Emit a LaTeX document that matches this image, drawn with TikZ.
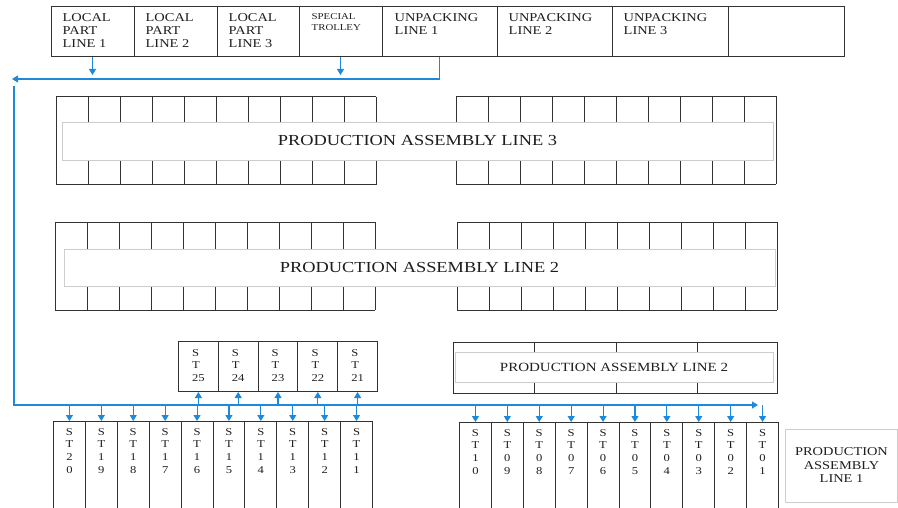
\documentclass[tikz,border=0pt]{standalone}
\usepackage{fontspec}
\setmainfont{Liberation Serif}[FakeStretch=1.2]
\usetikzlibrary{arrows.meta,calc}
\definecolor{flowblue}{RGB}{30,136,218}
\definecolor{boxline}{RGB}{50,50,50}
\definecolor{innerline}{RGB}{205,205,205}
\definecolor{txt}{RGB}{30,30,30}
\begin{document}
\begin{tikzpicture}[x=1pt,y=-1pt,
  topbox/.style={draw=boxline,line width=1pt,inner sep=0pt,minimum height=50pt},
  toptext/.style={inner sep=0pt,align=left,text=txt,font=\fontsize{12}{13}\selectfont},
  smalltext/.style={inner sep=0pt,align=left,text=txt,font=\fontsize{9}{11}\selectfont},
  gridline/.style={draw=boxline,line width=1pt},
  innerbox/.style={draw=innerline,line width=0.9pt,fill=white,inner sep=0pt,text=txt},
  bigtext/.style={font=\fontsize{15.3}{18}\selectfont},
  midtext/.style={font=\fontsize{12.5}{15}\selectfont},
  stbox/.style={draw=boxline,line width=1pt,inner sep=0pt},
  sttext/.style={inner sep=0pt,text=txt,font=\fontsize{10.5}{12.8}\selectfont},
  labelbox/.style={draw=innerline,line width=0.9pt,inner sep=0pt,align=center,text=txt,font=\fontsize{12}{13.5}\selectfont},
  flowline/.style={draw=flowblue,line width=1.1pt},
  flow/.style={flowline,-{Triangle[width=7pt,length=6pt]}}]
\useasboundingbox (0,0) rectangle (898,508);

% ---------- top row ----------
\foreach \n/\a/\b in {lp1/51/134,lp2/134/217,lp3/217/299,sp/299/382,uk1/382/497,uk2/497/612,uk3/612/728,blank/728/844}{
  \node[topbox,minimum width={\b-\a}] (\n) at ({(\a+\b)/2},32) {};
}
\node[toptext,anchor=north west] (lp1t) at ($(lp1.north west)+(12,7)$) {LOCAL\\PART\\LINE 1};
\node[toptext,anchor=north west] (lp2t) at ($(lp2.north west)+(12,7)$) {LOCAL\\PART\\LINE 2};
\node[toptext,anchor=north west] (lp3t) at ($(lp3.north west)+(12,7)$) {LOCAL\\PART\\LINE 3};
\node[smalltext,anchor=north west] (spt) at ($(sp.north west)+(13,7)$) {SPECIAL\\TROLLEY};
\node[toptext,anchor=north west] (uk1t) at ($(uk1.north west)+(13,7)$) {UNPACKING\\LINE 1};
\node[toptext,anchor=north west] (uk2t) at ($(uk2.north west)+(12,7)$) {UNPACKING\\LINE 2};
\node[toptext,anchor=north west] (uk3t) at ($(uk3.north west)+(12,7)$) {UNPACKING\\LINE 3};

% ---------- production assembly line 3 ----------
\foreach \x in {56,88,...,376} \draw[gridline] (\x,97) -- (\x,185);
\draw[gridline] (56,97) -- (376,97) (56,185) -- (376,185);
\foreach \x in {456,488,...,776} \draw[gridline] (\x,96.5) -- (\x,184.5);
\draw[gridline] (456,96.5) -- (776,96.5) (456,184.5) -- (776,184.5);
\node[innerbox,bigtext,minimum width=711pt,minimum height=38pt] (pal3) at (417.5,141) {PRODUCTION ASSEMBLY LINE 3};

% ---------- production assembly line 2 ----------
\foreach \x in {55,87,...,375} \draw[gridline] (\x,222.5) -- (\x,310);
\draw[gridline] (55,222.5) -- (375,222.5) (55,310) -- (375,310);
\foreach \x in {457,489,...,777} \draw[gridline] (\x,222.5) -- (\x,310);
\draw[gridline] (457,222.5) -- (777,222.5) (457,310) -- (777,310);
\node[innerbox,bigtext,minimum width=711pt,minimum height=37pt] (pal2) at (419.5,267.5) {PRODUCTION ASSEMBLY LINE 2};

% ---------- small production assembly line 2 ----------
\draw[gridline] (453,342) rectangle (777,393);
\foreach \x in {534,616,697} \draw[gridline] (\x,342) -- (\x,393);
\node[innerbox,midtext,minimum width=318pt,minimum height=30pt] (pal2b) at (614,367) {PRODUCTION ASSEMBLY LINE 2};

% ---------- label box ----------
\node[labelbox,minimum width=112pt,minimum height=73pt] (pal1) at (841.5,465.5) {PRODUCTION\\ASSEMBLY\\LINE 1};

% ---------- flow lines ----------
\coordinate (topA) at (0,75);
\coordinate (topL) at (12,79);
\coordinate (vtop) at (14,86);
\coordinate (busL) at (14,405);
\coordinate (busR) at (758,405);
\draw[flow] (lp1.south) -- (lp1.south |- topA);
\draw[flow] (sp.south) -- (sp.south |- topA);
\draw[flow] (uk1.south) |- (topL);
\draw[flow] (vtop) |- (busR);

% ---------- stations 25..21 ----------
\foreach \n [count=\k from 0] in {25,24,23,22,21}{
  \node[stbox,minimum width=39.8pt,minimum height=50pt,anchor=north west] (u\n) at ({178+39.8*\k},341) {};
  \node[sttext,align=left,anchor=north] (ut\n) at ($(u\n.north)+(0,8)$) {S\\T\\\n};
  \draw[flow] (u\n.south |- busL) -- (u\n.south);
}

% ---------- stations 20..11 ----------
\foreach \n/\a/\b [count=\k from 0] in {20/2/0,19/1/9,18/1/8,17/1/7,16/1/6,15/1/5,14/1/4,13/1/3,12/1/2,11/1/1}{
  \node[stbox,minimum width=31.9pt,minimum height=100pt,anchor=north west] (s\n) at ({53+31.9*\k},421) {};
  \node[sttext,align=center,anchor=north] (t\n) at ($(s\n.north)+(0,7)$) {S\\T\\\a\\\b};
  \draw[flow] (s\n.north |- busL) -- (s\n.north);
}

% ---------- stations 10..01 ----------
\foreach \n/\a/\b [count=\k from 0] in {10/1/0,09/0/9,08/0/8,07/0/7,06/0/6,05/0/5,04/0/4,03/0/3,02/0/2,01/0/1}{
  \node[stbox,minimum width=31.9pt,minimum height=100pt,anchor=north west] (s\n) at ({459+31.9*\k},422) {};
  \node[sttext,align=center,anchor=north] (t\n) at ($(s\n.north)+(0,7)$) {S\\T\\\a\\\b};
  \draw[flow] (s\n.north |- busL) -- (s\n.north);
}
\end{tikzpicture}
\end{document}
